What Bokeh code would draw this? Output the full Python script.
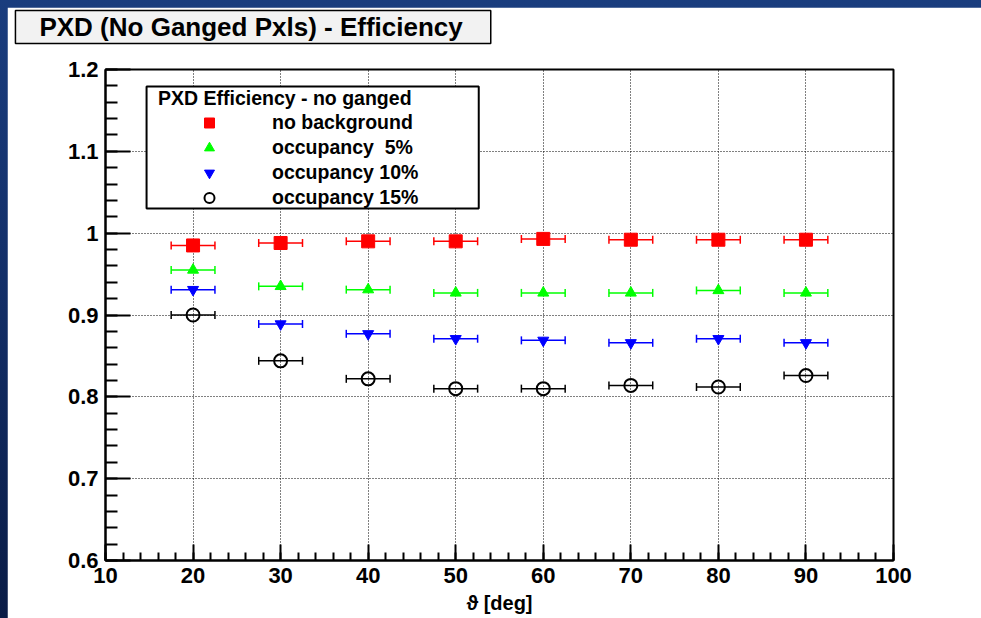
from bokeh.plotting import figure
from bokeh.models import (ColumnDataSource, Range1d, SingleIntervalTicker, FixedTicker, Whisker, TeeHead,
                          Legend, LegendItem, BoxAnnotation, Label, CustomJSTickFormatter,
                          GlobalInlineStyleSheet)
from bokeh.embed import file_html
from bokeh.resources import INLINE

# ---------------- data ----------------
theta = [20, 30, 40, 50, 60, 70, 80, 90]
theta_err = [2.5, 2.5, 2.5, 2.5, 2.5, 2.5, 2.5, 2.5]
eff_no_background = [0.985, 0.988, 0.990, 0.990, 0.993, 0.992, 0.992, 0.992]
eff_occupancy_5 = [0.955, 0.935, 0.931, 0.927, 0.927, 0.927, 0.930, 0.927]
eff_occupancy_10 = [0.931, 0.889, 0.877, 0.871, 0.869, 0.866, 0.871, 0.866]
eff_occupancy_15 = [0.900, 0.844, 0.822, 0.810, 0.810, 0.814, 0.812, 0.826]
series_labels = ["no background", "occupancy  5%", "occupancy 10%", "occupancy 15%"]
y_ticks = [0.6, 0.7, 0.8, 0.9, 1.0, 1.1, 1.2]
title_text = "PXD (No Ganged Pxls) - Efficiency"
legend_title = "PXD Efficiency - no ganged"
x_title = "\u03d1 [deg]"

FONT = "Liberation Sans"

p = figure(width=974, height=611, x_range=Range1d(10, 100), y_range=Range1d(0.6, 1.2),
           output_backend="svg", toolbar_location=None,
           min_border_left=98, min_border_right=88, min_border_top=62, min_border_bottom=58,
           background_fill_color="white", border_fill_color="white")

p.stylesheets = [GlobalInlineStyleSheet(
    css="html { background: #0d2455; } "
        "body { margin: 0 !important; padding: 7px 0 0 7px !important; "
        "background: linear-gradient(to bottom, #1a3d7e 0%, #132f68 45%, #0a1c46 100%) !important; }")]

p.outline_line_color = "black"
p.outline_line_width = 2

# axes
p.xaxis.ticker = SingleIntervalTicker(interval=10, num_minor_ticks=5)
p.yaxis.ticker = FixedTicker(ticks=y_ticks,
                             minor_ticks=[round(0.6 + 0.02 * i, 2) for i in range(31)])
p.yaxis.formatter = CustomJSTickFormatter(code="return String(parseFloat(tick.toFixed(2)));")
for ax in (p.xaxis[0], p.yaxis[0]):
    ax.axis_line_color = "black"
    ax.axis_line_width = 2
    ax.major_tick_line_color = "black"
    ax.major_tick_line_width = 2
    ax.minor_tick_line_color = "black"
    ax.minor_tick_line_width = 2
    ax.major_tick_out = 0
    ax.minor_tick_out = 0
    ax.major_label_text_font = FONT
    ax.major_label_text_font_style = "bold"
    ax.major_label_text_font_size = "22px"
    ax.major_label_text_color = "black"
p.yaxis.major_tick_in = 25
p.yaxis.minor_tick_in = 12
p.yaxis.major_label_standoff = 7
p.xaxis.major_tick_in = 16
p.xaxis.minor_tick_in = 8
p.xaxis.major_label_standoff = 7
p.xaxis.axis_label = x_title
p.xaxis.axis_label_text_font = FONT
p.xaxis.axis_label_text_font_style = "bold"
p.xaxis.axis_label_text_font_size = "20px"
p.xaxis.axis_label_text_color = "black"
p.xaxis.axis_label_standoff = 6

# grid
for g in (p.xgrid[0], p.ygrid[0]):
    g.grid_line_color = "black"
    g.grid_line_dash = "1 2"
    g.grid_line_width = 1
p.xgrid.ticker = p.xaxis.ticker
p.ygrid.ticker = FixedTicker(ticks=y_ticks)

# series
series = [
    (eff_no_background, "red", "square", 13),
    (eff_occupancy_5, "#00ff00", "triangle", 11),
    (eff_occupancy_10, "blue", "inverted_triangle", 11),
    (eff_occupancy_15, "black", "circle", 13),
]
renderers = []
for vals, color, marker, size in series:
    src = ColumnDataSource(dict(
        x=theta, y=vals,
        lo=[t - e for t, e in zip(theta, theta_err)],
        hi=[t + e for t, e in zip(theta, theta_err)]))
    wh = Whisker(source=src, base="y", lower="lo", upper="hi", dimension="width",
                 line_color=color, line_width=1.5, level="underlay",
                 lower_head=TeeHead(size=8, line_color=color, line_width=1.5),
                 upper_head=TeeHead(size=8, line_color=color, line_width=1.5))
    p.add_layout(wh)
    if marker == "circle":
        r = p.scatter("x", "y", source=src, marker=marker, size=size,
                      fill_alpha=0, line_color=color, line_width=2)
    else:
        r = p.scatter("x", "y", source=src, marker=marker, size=size,
                      fill_color=color, line_color=color, line_width=1)
    renderers.append(r)

# legend box
box = BoxAnnotation(left=14.69, right=52.63, top=1.1793, bottom=1.0302,
                    fill_color="white", fill_alpha=1.0, line_color="black",
                    line_alpha=1.0, line_width=2)
p.add_layout(box)

legend = Legend(items=[LegendItem(label=lab, renderers=[r]) for lab, r in zip(series_labels, renderers)],
                location=(43, 340), title=legend_title, padding=10, margin=0,
                glyph_width=102, glyph_height=25, label_height=25, spacing=0,
                label_standoff=12, title_standoff=0,
                background_fill_alpha=0, border_line_alpha=0)
legend.title_text_font = FONT
legend.title_text_font_style = "bold"
legend.title_text_font_size = "19.5px"
legend.title_text_color = "black"
legend.label_text_font = FONT
legend.label_text_font_style = "bold"
legend.label_text_font_size = "19.5px"
legend.label_text_color = "black"
p.add_layout(legend)

# title pave (placed in the top side panel so it is not clipped to the frame)
title = Label(x=-0.286, y=1.2721, text=title_text, text_align="left", text_baseline="top",
              text_font=FONT, text_font_size="26px", text_font_style="bold", text_color="black",
              background_fill_color="#f2f2f2", border_line_color="black", border_line_width=1.5,
              padding=dict(left=24, right=28, top=2, bottom=1))
p.add_layout(title, "above")

open("out.html", "w").write(file_html(p, INLINE))
